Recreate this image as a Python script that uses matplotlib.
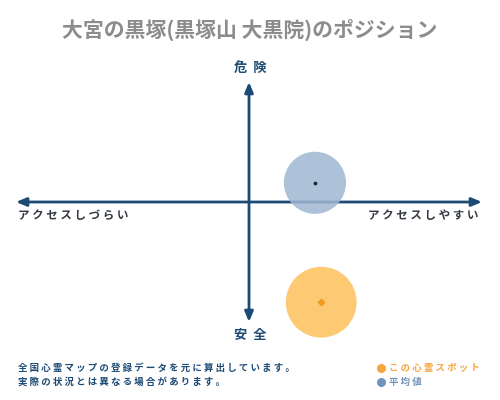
import matplotlib
matplotlib.use("Agg")
import matplotlib.pyplot as plt

plt.rcParams['font.family'] = ['Noto Sans CJK JP', 'DejaVu Sans']

title = "大宮の黒塚(黒塚山 大黒院)のポジション"
x_labels = ["アクセスしづらい", "アクセスしやすい"]
y_labels = ["安全", "危険"]
spot_name = "この心霊スポット"
avg_name = "平均値"
notes = ["全国心霊マップの登録データを元に算出しています。",
         "実際の状況とは異なる場合があります。"]

# positions on the access (x) / danger (y) axes, range -1..1
spot_x, spot_y = 0.31, -0.835
avg_x, avg_y = 0.283, 0.16

navy = "#1d4a74"
orange = "#f6a640"
blue_grey = "#6f93bb"


def spaced(s, gap=" "):
    # rough letter-spacing
    return gap.join(s)


fig = plt.figure(figsize=(5, 4), dpi=100)
bg = fig.add_axes([0, 0, 1, 1])
bg.set_xlim(0, 500)
bg.set_ylim(400, 0)
bg.axis("off")

ax = fig.add_axes([16 / 500, (400 - 322) / 400, 466 / 500, 240 / 400])
ax.set_xlim(-1, 1)
ax.set_ylim(-1, 1)
ax.axis("off")

# cross arrows
ax.annotate("", xy=(1, 0), xytext=(-1, 0),
            arrowprops=dict(arrowstyle="<|-|>,head_length=0.6,head_width=0.25",
                            color=navy, lw=2, shrinkA=0, shrinkB=0))
ax.annotate("", xy=(0, 1), xytext=(0, -1),
            arrowprops=dict(arrowstyle="<|-|>,head_length=0.6,head_width=0.25",
                            color=navy, lw=2, shrinkA=0, shrinkB=0))

# bubbles
ax.scatter([avg_x], [avg_y], s=2000, color="#9fb6d2", alpha=0.85,
           edgecolors="none", zorder=3, clip_on=False)
ax.scatter([avg_x], [avg_y], s=3, color="#1a2a3a", zorder=4, clip_on=False)
ax.scatter([spot_x], [spot_y], s=2600, color="#fdc463", alpha=0.9,
           edgecolors="none", zorder=3, clip_on=False)
ax.scatter([spot_x], [spot_y], s=10, marker="D", color="#f09a20", zorder=4,
           clip_on=False)

bg.text(250, 30, title, ha="center", va="center", fontsize=15,
        fontweight="bold", color="#8c8c8c")
bg.text(250, 68, spaced(y_labels[1], "  "), ha="center", va="center",
        fontsize=9.5, fontweight="bold", color=navy)
bg.text(250, 335, spaced(y_labels[0], "  "), ha="center", va="center",
        fontsize=9.5, fontweight="bold", color=navy)
bg.text(18, 215, spaced(x_labels[0]), ha="left", va="center", fontsize=8.3,
        color="#333a44", fontweight="bold")
bg.text(478, 215, spaced(x_labels[1]), ha="right", va="center", fontsize=8.3,
        color="#333a44", fontweight="bold")

bg.text(18, 368, spaced(notes[0]), ha="left", va="center", fontsize=6.8,
        fontweight="bold", color=navy)
bg.text(18, 382, spaced(notes[1]), ha="left", va="center", fontsize=6.8,
        fontweight="bold", color=navy)

bg.scatter([381], [368], s=30, color=orange, zorder=3)
bg.scatter([381], [382], s=30, color=blue_grey, zorder=3)
bg.text(389, 368, spaced(spot_name), ha="left", va="center", fontsize=6.8,
        fontweight="bold", color=orange)
bg.text(389, 382, spaced(avg_name), ha="left", va="center", fontsize=6.8,
        fontweight="bold", color=blue_grey)

fig.savefig("out.png", dpi=100)
